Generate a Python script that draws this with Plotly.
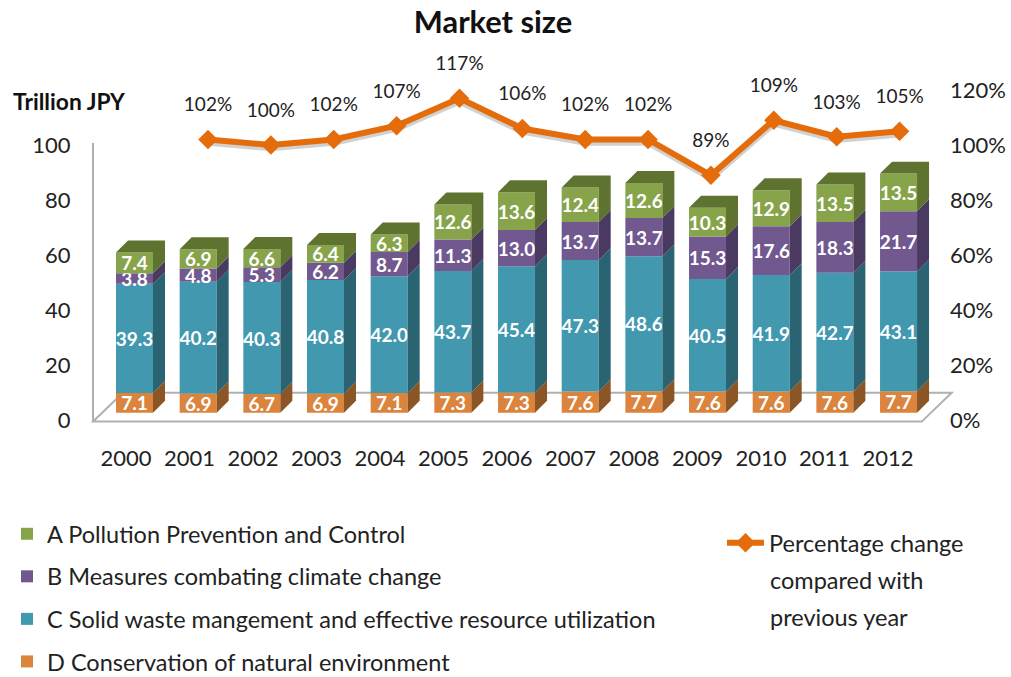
import plotly.graph_objects as go

years = list(range(2000, 2013))
series_a = [7.4, 6.9, 6.6, 6.4, 6.3, 12.6, 13.6, 12.4, 12.6, 10.3, 12.9, 13.5, 13.5]
series_b = [3.8, 4.8, 5.3, 6.2, 8.7, 11.3, 13.0, 13.7, 13.7, 15.3, 17.6, 18.3, 21.7]
series_c = [39.3, 40.2, 40.3, 40.8, 42.0, 43.7, 45.4, 47.3, 48.6, 40.5, 41.9, 42.7, 43.1]
series_d = [7.1, 6.9, 6.7, 6.9, 7.1, 7.3, 7.3, 7.6, 7.7, 7.6, 7.6, 7.6, 7.7]
pct_years = years[1:]
pct_change = [102, 100, 102, 107, 117, 106, 102, 102, 89, 109, 103, 105]
left_ticks = [0, 20, 40, 60, 80, 100]
right_ticks = [0, 20, 40, 60, 80, 100, 120]
name_a = "A Pollution Prevention and Control"
name_b = "B Measures combating climate change"
name_c = "C Solid waste mangement and effective resource utilization"
name_d = "D Conservation of natural environment"
name_line = "Percentage change"
line_rest = ["compared with", "previous year"]

FONT = "Lato"
L, R, T, B = 93, 952, 45, 430
W, H = 1011, 677
def px(p): return (p - L) / (R - L)
def py(p): return (B - p) / (B - T)

def xrange_for(p0, step, first=2000):
    return [first + (L - p0) / step, first + (R - p0) / step]
def yrange_for(p0, scale):
    return [(p0 - B) / scale, (p0 - T) / scale]

BAR_W = 0.581
DX, DY = 0.1885, 4.3

fig = go.Figure()
totals = [a + b + c + d for a, b, c, d in zip(series_a, series_b, series_c, series_d)]
# Base subplot that carries the visible tick axes.
fig.add_trace(go.Scatter(x=years, y=totals, mode="markers", marker=dict(opacity=0, size=1), xaxis="x", yaxis="y",
                         showlegend=False, hoverinfo="skip"))

stack = [(series_d, name_d, "#DB843D", "#8B5526", 4),
         (series_c, name_c, "#4198AF", "#2A6473", 3),
         (series_b, name_b, "#71588F", "#4A3A62", 2),
         (series_a, name_a, "#87A44B", "#5F7330", 1)]

base = [0.0] * len(years)
for vals, name, front, side, rank in stack:
    fig.add_trace(go.Bar(
        x=years, y=vals, base=base, width=BAR_W, name=name, marker=dict(color=front, line=dict(width=0)),
        text=[f"{v:.1f}" for v in vals], textposition="inside", insidetextanchor="middle",
        textangle=0, constraintext="none", cliponaxis=False,
        textfont=dict(family=FONT, size=19, color="white", weight=700),
        xaxis="x2", yaxis="y3", legend="legend", legendgroup=name, legendrank=rank, hoverinfo="skip"))
    xs, ys = [], []
    for yr, b, v in zip(years, base, vals):
        xr = yr + BAR_W / 2
        t = b + v
        xs += [xr, xr + DX, xr + DX, xr, xr, None]
        ys += [b, b + DY, t + DY, t, b, None]
        if rank == 1:
            xl = yr - BAR_W / 2
            xs += [xl, xl + DX, xr + DX, xr, xl, None]
            ys += [t, t + DY, t + DY, t, t, None]
    fig.add_trace(go.Scatter(x=xs, y=ys, mode="lines", fill="toself", fillcolor=side, line=dict(width=0, color=side),
                             xaxis="x2", yaxis="y3", showlegend=False, hoverinfo="skip"))
    base = [b + v for b, v in zip(base, vals)]

fig.add_trace(go.Scatter(x=pct_years, y=[v - 1.0 for v in pct_change], mode="lines",
                         line=dict(color="rgba(90,90,90,0.28)", width=7), xaxis="x3", yaxis="y2",
                         showlegend=False, hoverinfo="skip"))
fig.add_trace(go.Scatter(x=pct_years, y=pct_change, mode="lines+markers", name=name_line,
                         line=dict(color="#E46C0A", width=6),
                         marker=dict(symbol="diamond", size=15, color="#E46C0A"),
                         xaxis="x3", yaxis="y2", legend="legend2", hoverinfo="skip"))
fig.add_trace(go.Scatter(x=pct_years, y=[v + 12 for v in pct_change], mode="text",
                         text=[f"{v}%" for v in pct_change], textposition="middle center",
                         textfont=dict(family=FONT, size=19, color="#222222"),
                         xaxis="x3", yaxis="y2", showlegend=False, hoverinfo="skip", cliponaxis=False))

floor = (f"M {px(93)},{py(421.6)} L {px(921.7)},{py(421.6)} L {px(951.7)},{py(392.7)} "
         f"L {px(123)},{py(392.7)} Z")
shapes = [
    dict(type="path", xref="paper", yref="paper", path=floor, line=dict(color="#B0B0B0", width=2), layer="below"),
    dict(type="line", xref="paper", yref="paper", x0=px(93), x1=px(93), y0=py(143), y1=py(421.6),
         line=dict(color="#B0B0B0", width=2), layer="below"),
]

annotations = [
    dict(text="<b>Trillion JPY</b>", xref="paper", yref="paper", x=px(11), y=py(101), xanchor="left", yanchor="middle",
         showarrow=False, font=dict(family=FONT, size=22.8, color="#111111")),
]
for txt, p in zip(line_rest, (580, 617)):
    annotations.append(dict(text=txt, xref="paper", yref="paper", x=px(768), y=py(p), xanchor="left", yanchor="middle",
                            showarrow=False, font=dict(family=FONT, size=23.5, color="#222222")))

tick_font = dict(family=FONT, size=22, color="#222222")
fig.update_layout(
    width=W, height=H, autosize=False,
    margin=dict(l=L, r=W - R, t=T, b=H - B, autoexpand=False),
    plot_bgcolor="rgba(0,0,0,0)", paper_bgcolor="white",
    title=dict(text="<b>Market size</b>", x=493 / W, xanchor="center", y=1 - 22 / H, yanchor="middle",
               font=dict(family=FONT, size=30.8, color="#111111")),
    barmode="overlay",
    xaxis=dict(range=xrange_for(126, 63.5), tickvals=years, ticktext=[str(y) for y in years], showgrid=False,
               zeroline=False, showline=False, ticks="outside", ticklen=9, tickcolor="rgba(0,0,0,0)", tickfont=tick_font),
    xaxis2=dict(range=xrange_for(134.5, 63.67), overlaying="x", anchor="y3", visible=False),
    xaxis3=dict(range=xrange_for(145.13, 62.87), overlaying="x", anchor="y2", visible=False),
    yaxis=dict(range=yrange_for(420, 2.75), tickvals=left_ticks, showgrid=False, zeroline=False, showline=False,
               ticks="outside", ticklen=17, tickcolor="rgba(0,0,0,0)", tickfont=tick_font),
    yaxis2=dict(range=yrange_for(420, 2.75), tickvals=right_ticks, ticktext=[f"{v}%" for v in right_ticks],
                overlaying="y", side="right", anchor="x3", showgrid=False, zeroline=False, showline=False,
                ticks="", ticklabelstandoff=-3, tickfont=tick_font),
    yaxis3=dict(range=yrange_for(412.7, 2.78), overlaying="y", anchor="x2", visible=False),
    legend=dict(x=px(7), y=py(512), xanchor="left", yanchor="top", traceorder="grouped", tracegroupgap=9,
                font=dict(family=FONT, size=23.5, color="#222222"), bgcolor="rgba(0,0,0,0)", itemclick=False),
    legend2=dict(x=px(722), y=py(521), xanchor="left", yanchor="top", itemwidth=37,
                 font=dict(family=FONT, size=23.5, color="#222222"), bgcolor="rgba(0,0,0,0)", itemclick=False),
    shapes=shapes, annotations=annotations, showlegend=True,
)
fig.write_html("out.html", post_script="document.body.style.margin='0';", config=dict(displayModeBar=False))
